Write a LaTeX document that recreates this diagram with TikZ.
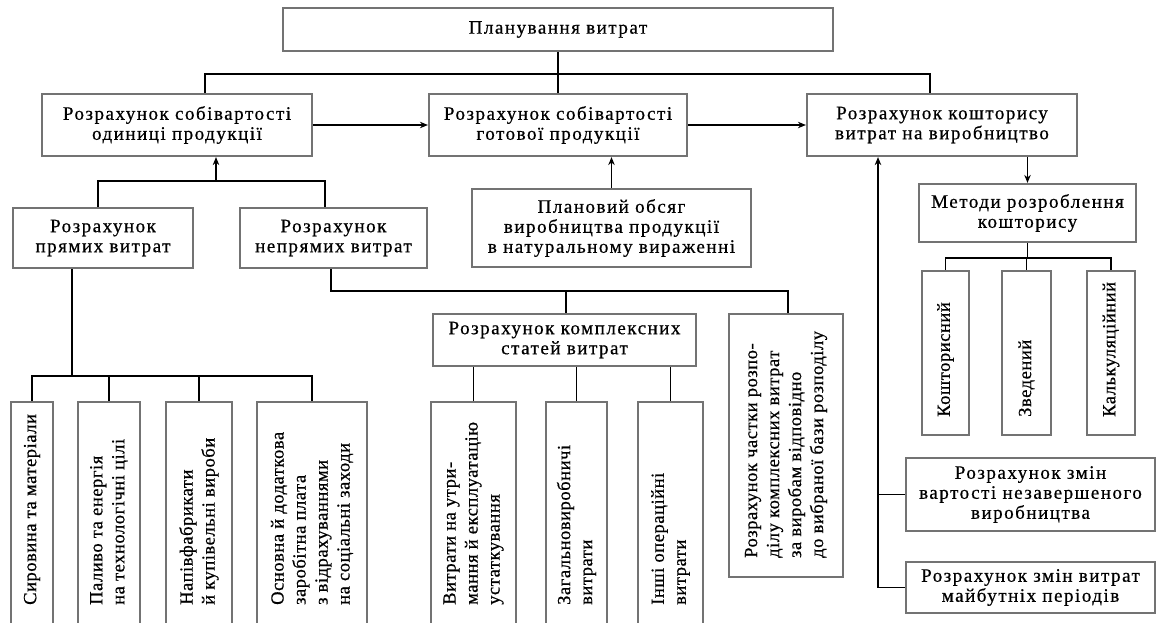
\documentclass[tikz,border=0pt]{standalone}
\usepackage{fontspec}
\setmainfont{Liberation Serif}[LetterSpace=8,FakeBold=0.6]
\newfontfamily\myvfam{Liberation Serif}[LetterSpace=3,FakeBold=0.6]
\usetikzlibrary{arrows.meta}
\newcommand{\myhfont}{\fontsize{19}{20}\selectfont}
\newcommand{\myvfont}{\myvfam\fontsize{18.5}{22}\selectfont}
\tikzset{
  box/.style={draw=black!55, line width=2.2pt, fill=white, inner sep=0pt, align=center, font=\myhfont, text=black},
  vtxt/.style={rotate=90, anchor=west, align=left, inner sep=0pt, font=\myvfont},
  con/.style={line width=1.2pt, draw=black},
  arr/.style={con, -{Stealth[length=8pt,width=6.5pt]}},
}
\begin{document}
\begin{tikzpicture}[x=1pt, y=-1pt]
\useasboundingbox (0,0) rectangle (1158,622);
\clip (0,0) rectangle (1158,622);
\fill[white] (0,0) rectangle (1158,622);

% boxes with horizontal text
\node[box, minimum width=550, minimum height=43] (T) at (558,29.5) {Планування витрат};
\node[box, minimum width=270, minimum height=62] (A) at (177,125) {Розрахунок собівартості\\одиниці продукції};
\node[box, minimum width=258, minimum height=62] (B) at (558,125) {Розрахунок собівартості\\готової продукції};
\node[box, minimum width=270, minimum height=62] (C) at (942,125) {Розрахунок кошторису\\витрат на виробництво};
\node[box, minimum width=180, minimum height=60] (D) at (103,238) {Розрахунок\\прямих витрат};
\node[box, minimum width=187, minimum height=60] (E) at (333.5,238) {Розрахунок\\непрямих витрат};
\node[box, minimum width=279, minimum height=78] (F) at (611.5,228) {Плановий обсяг\\виробництва продукції\\в натуральному вираженні};
\node[box, minimum width=263, minimum height=52] (G) at (564.5,340) {Розрахунок комплексних\\статей витрат};
\node[box, minimum width=217, minimum height=58] (K) at (1027.5,213) {Методи розроблення\\кошторису};
\node[box, minimum width=249, minimum height=73] (M) at (1030.5,494.5) {Розрахунок змін\\вартості незавершеного\\виробництва};
\node[box, minimum width=249, minimum height=51] (N) at (1030.5,587.5) {Розрахунок змін витрат\\майбутніх періодів};

% boxes with vertical text
\node[box, minimum width=114, minimum height=263] (H) at (786,445.5) {};
\node[box, minimum width=85, minimum height=238] (I1) at (473.5,521) {};
\node[box, minimum width=61, minimum height=238] (I2) at (576.5,521) {};
\node[box, minimum width=65, minimum height=238] (I3) at (670.5,521) {};
\node[box, minimum width=42, minimum height=238] (J1) at (32,521) {};
\node[box, minimum width=62, minimum height=238] (J2) at (109,521) {};
\node[box, minimum width=66, minimum height=238] (J3) at (199,521) {};
\node[box, minimum width=110, minimum height=238] (J4) at (312,521) {};
\node[box, minimum width=47, minimum height=164] (L1) at (945.5,353) {};
\node[box, minimum width=49, minimum height=164] (L2) at (1026.5,353) {};
\node[box, minimum width=48, minimum height=164] (L3) at (1111,353) {};

\node[vtxt] (Ht) at (H.center |- 0,558) {Розрахунок частки розпо-\\ділу комплексних витрат\\за виробам відповідно\\до вибраної бази розподілу};
\node[vtxt] (I1t) at (I1.center |- 0,605) {Витрати на утри-\\мання й експлуатацію\\устаткування};
\node[vtxt] (I2t) at (I2.center |- 0,605) {Загальновиробничі\\витрати};
\node[vtxt] (I3t) at (I3.center |- 0,605) {Інші операційні\\витрати};
\node[vtxt] (J1t) at (J1.center |- 0,605) {Сировина та матеріали};
\node[vtxt] (J2t) at (J2.center |- 0,605) {Паливо та енергія\\на технологічні цілі};
\node[vtxt] (J3t) at (J3.center |- 0,605) {Напівфабрикати\\й купівельні вироби};
\node[vtxt] (J4t) at (J4.center |- 0,605) {Основна й додаткова\\заробітна плата\\з відрахуваннями\\на соціальні заходи};
\node[vtxt] (L1t) at (L1.center |- 0,417) {Кошторисний};
\node[vtxt] (L2t) at (L2.center |- 0,417) {Зведений};
\node[vtxt] (L3t) at (L3.center |- 0,417) {Калькуляційний};

% connectors
\coordinate (t1) at (205,74);
\coordinate (t2) at (930,74);
\draw[con] (t1 |- A.north) -- (t1) -- (t2) -- (t2 |- C.north);
\draw[con] (T.south) -- (B.north);
\draw[arr] (A.east) -- (B.west);
\draw[arr] (B.east) -- (C.west);

\coordinate (a1) at (216,181);
\coordinate (d1) at (98,181);
\coordinate (e1) at (325,181);
\draw[con] (d1 |- D.north) -- (d1) -- (e1) -- (e1 |- E.north);
\draw[arr] (a1) -- (a1 |- A.south);
\draw[arr] (F.north) -- (F.north |- B.south);

\coordinate (e2) at (331,291);
\coordinate (h1) at (788,291);
\coordinate (g1) at (566,291);
\draw[con] (e2 |- E.south) -- (e2) -- (h1) -- (h1 |- H.north);
\draw[con] (g1) -- (g1 |- G.north);
\draw[con] (G.south -| I1.north) -- (I1.north);
\draw[con] (G.south -| I2.north) -- (I2.north);
\draw[con] (G.south -| I3.north) -- (I3.north);

\coordinate (d2) at (72,376);
\draw[con] (d2 |- D.south) -- (d2);
\draw[con] (J1.north) -- (J1.north |- d2) -- (J4.north |- d2) -- (J4.north);
\draw[con] (J2.north) -- (J2.north |- d2);
\draw[con] (J3.north) -- (J3.north |- d2);

\draw[arr] (C.south -| K.north) -- (K.north);
\coordinate (k1) at (1030,258);
\draw[con] (K.south) -- (K.south |- k1);
\draw[con] (L1.north) -- (L1.north |- k1) -- (L3.north |- k1) -- (L3.north);
\draw[con] (L2.north) -- (L2.north |- k1);

\coordinate (v) at (878,300);
\draw[arr] (N.west) -- (N.west -| v) -- (v |- C.south);
\draw[con] (M.west) -- (M.west -| v);
\end{tikzpicture}
\end{document}
